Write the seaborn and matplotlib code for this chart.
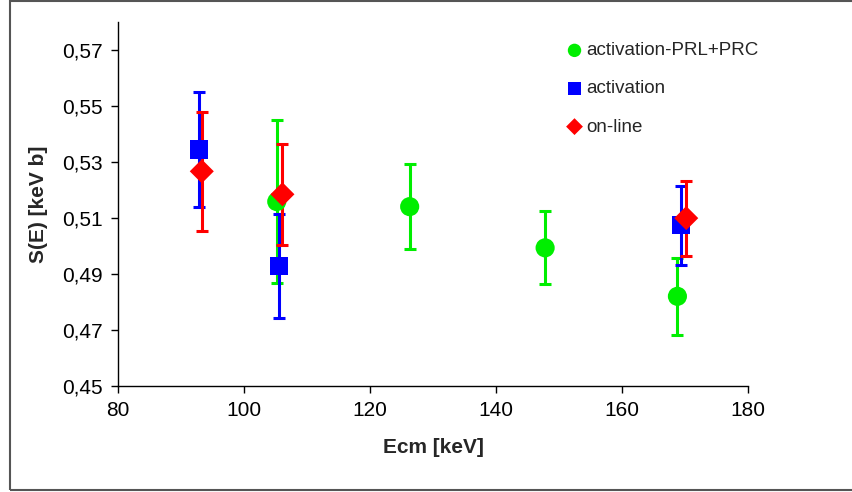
import pandas as pd
import seaborn as sns
from matplotlib import pyplot as plt
from matplotlib.patches import Rectangle

# data
series = ['activation-PRL+PRC', 'activation', 'on-line']

prl_x = [105.2, 126.3, 147.8, 168.8]
prl_y = [0.5158, 0.514, 0.4993, 0.482]
prl_err = [0.029, 0.0152, 0.013, 0.0137]

act_x = [92.8, 105.6, 169.4]
act_y = [0.5344, 0.4928, 0.5073]
act_err = [0.0204, 0.0184, 0.014]

onl_x = [93.3, 106.1, 170.2]
onl_y = [0.5266, 0.5184, 0.5099]
onl_err = [0.0212, 0.018, 0.0134]

xticks = [80, 100, 120, 140, 160, 180]
yticks = [0.45, 0.47, 0.49, 0.51, 0.53, 0.55, 0.57]
ytick_labels = ['0,45', '0,47', '0,49', '0,51', '0,53', '0,55', '0,57']

colors = {'activation-PRL+PRC': '#00ee00', 'activation': '#0000ff', 'on-line': '#ff0000'}
markers = {'activation-PRL+PRC': 'o', 'activation': 's', 'on-line': 'D'}
sizes = {'activation-PRL+PRC': 190, 'activation': 170, 'on-line': 150}

frames = []
for name, xs, ys, es in [(series[0], prl_x, prl_y, prl_err),
                         (series[1], act_x, act_y, act_err),
                         (series[2], onl_x, onl_y, onl_err)]:
    frames.append(pd.DataFrame({'Ecm': xs, 'S': ys, 'err': es, 'set': name}))
df = pd.concat(frames, ignore_index=True)

sns.set_style('ticks')
plt.rcParams['font.family'] = ['Liberation Sans', 'DejaVu Sans']

fig = plt.figure(figsize=(8.52, 4.92), dpi=100)
ax = fig.add_axes([0.1385, 0.2154, 0.7394, 0.7406])

for name in series:
    d = df[df['set'] == name]
    ax.errorbar(d['Ecm'], d['S'], yerr=d['err'], fmt='none', ecolor=colors[name],
                elinewidth=2.2, capsize=4, capthick=2.2, zorder=2)
    sns.scatterplot(x='Ecm', y='S', data=d, color=colors[name], marker=markers[name],
                    s=sizes[name], edgecolor='none', label=name, ax=ax, zorder=3)

ax.set_xlim(80, 180)
ax.set_ylim(0.45, 0.58)
ax.set_xticks(xticks)
ax.set_yticks(yticks)
ax.set_yticklabels(ytick_labels)
ax.tick_params(direction='out', length=5, width=1, colors='black', labelsize=15, pad=6)
sns.despine(ax=ax)
ax.spines['left'].set_color('black')
ax.spines['bottom'].set_color('black')
ax.spines['left'].set_linewidth(1)
ax.spines['bottom'].set_linewidth(1)

ax.set_xlabel('Ecm [keV]', fontsize=15, fontweight='bold', labelpad=13)
ax.set_ylabel('S(E) [keV b]', fontsize=15, fontweight='bold', labelpad=10)

ax.legend(loc='upper left', bbox_to_anchor=(0.68, 0.99), frameon=False, fontsize=13.5,
          markerscale=0.7, handletextpad=0.0, labelspacing=1.12, handlelength=1.2)

# outer chart border (no right edge visible in the reference)
fig.patches.append(Rectangle((10 / 852, 2 / 492), 850 / 852, 489 / 492, transform=fig.transFigure,
                             fill=False, edgecolor='#555555', linewidth=1.5))

fig.savefig('out.png', dpi=100)
